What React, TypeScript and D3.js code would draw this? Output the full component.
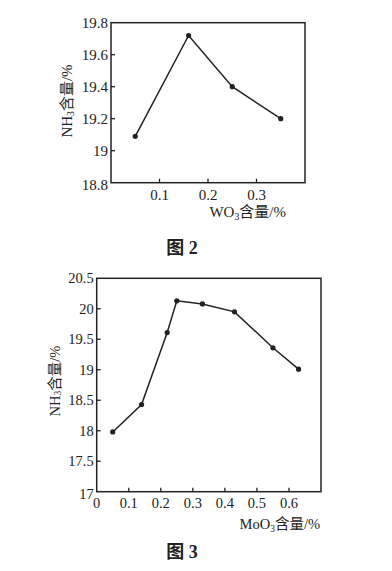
import React from "react";
import * as d3 from "d3";

// Figure 2 data
const wo3X = [0.05, 0.16, 0.25, 0.35];
const wo3Y = [19.09, 19.72, 19.4, 19.2];
const fig2XTicks = [0.1, 0.2, 0.3];
const fig2YTicks = [18.8, 19, 19.2, 19.4, 19.6, 19.8];
const fig2YLabels = ["18.8", "19", "19.2", "19.4", "19.6", "19.8"];

// Figure 3 data
const moo3X = [0.05, 0.14, 0.22, 0.25, 0.33, 0.43, 0.55, 0.63];
const moo3Y = [17.98, 18.43, 19.61, 20.13, 20.08, 19.95, 19.36, 19.01];
const fig3XTicks = [0, 0.1, 0.2, 0.3, 0.4, 0.5, 0.6];
const fig3YTicks = [17, 17.5, 18, 18.5, 19, 19.5, 20, 20.5];
const fig3YLabels = ["17", "17.5", "18", "18.5", "19", "19.5", "20", "20.5"];

const FONT = "'Liberation Serif', 'Times New Roman', 'Noto Sans CJK SC', serif";
const INK = "#222222";

type PanelProps = {
  xs: number[];
  ys: number[];
  xDomain: [number, number];
  yDomain: [number, number];
  left: number;
  right: number;
  top: number;
  bottom: number;
  xTicks: number[];
  yTicks: number[];
  yLabels: string[];
  fontSize: number;
  xTitleParts: [string, string, string];
  xTitleX: number;
  xTitleY: number;
  yTitleX: number;
  yTitleY: number;
  xLabelDy: number;
};

function Panel(p: PanelProps) {
  const x = d3.scaleLinear().domain(p.xDomain).range([p.left, p.right]);
  const y = d3.scaleLinear().domain(p.yDomain).range([p.bottom, p.top]);
  const line = d3
    .line<number>()
    .x((_, i) => x(p.xs[i]))
    .y((d) => y(d));
  const tl = 4;
  return (
    <g fontFamily={FONT} fill={INK}>
      <rect
        x={p.left}
        y={p.top}
        width={p.right - p.left}
        height={p.bottom - p.top}
        fill="none"
        stroke={INK}
        strokeWidth={1.5}
      />
      {p.yTicks.map((t, i) => (
        <g key={"y" + i}>
          {t !== p.yDomain[0] && t !== p.yDomain[1] && (
            <line x1={p.left} x2={p.left + tl} y1={y(t)} y2={y(t)} stroke={INK} strokeWidth={1.3} />
          )}
          <text
            x={p.left - 3}
            y={y(t) + (i === 0 ? 2 : 0)}
            textAnchor="end"
            dominantBaseline="central"
            fontSize={p.fontSize}
          >
            {p.yLabels[i]}
          </text>
        </g>
      ))}
      {p.xTicks.map((t, i) => (
        <g key={"x" + i}>
          {t !== p.xDomain[0] && (
            <line x1={x(t)} x2={x(t)} y1={p.bottom} y2={p.bottom - tl} stroke={INK} strokeWidth={1.3} />
          )}
          <text x={x(t)} y={p.bottom + p.xLabelDy} textAnchor="middle" fontSize={p.fontSize}>
            {t === 0 ? "0" : String(t)}
          </text>
        </g>
      ))}
      <path d={line(p.ys) || ""} fill="none" stroke={INK} strokeWidth={1.5} />
      {p.ys.map((v, i) => (
        <circle key={"c" + i} cx={x(p.xs[i])} cy={y(v)} r={2.6} fill={INK} />
      ))}
      <text x={p.xTitleX} y={p.xTitleY} textAnchor="end" fontSize={p.fontSize}>
        {p.xTitleParts[0]}
        <tspan fontSize={p.fontSize * 0.65} dy={3}>
          {p.xTitleParts[1]}
        </tspan>
        <tspan dy={-3}>{p.xTitleParts[2]}</tspan>
      </text>
      <text
        transform={`translate(${p.yTitleX},${p.yTitleY}) rotate(-90)`}
        textAnchor="middle"
        dominantBaseline="central"
        fontSize={p.fontSize}
      >
        NH
        <tspan fontSize={p.fontSize * 0.65} dy={3}>
          3
        </tspan>
        <tspan dy={-3}>含量/%</tspan>
      </text>
    </g>
  );
}

export default function App() {
  return (
    <svg
      width={392}
      height={571}
      style={{ position: "absolute", left: 0, top: 0, background: "#ffffff" }}
    >
      <rect x={0} y={0} width={392} height={571} fill="#ffffff" />
      <Panel
        xs={wo3X}
        ys={wo3Y}
        xDomain={[0, 0.4]}
        yDomain={[18.8, 19.8]}
        left={111}
        right={305}
        top={22.7}
        bottom={182.7}
        xTicks={fig2XTicks}
        yTicks={fig2YTicks}
        yLabels={fig2YLabels}
        fontSize={15}
        xTitleParts={["WO", "3", "含量/%"]}
        xTitleX={286}
        xTitleY={217}
        yTitleX={67}
        yTitleY={101}
        xLabelDy={17}
      />
      <text x={182} y={254} textAnchor="middle" fontSize={18} fontWeight="bold" fontFamily={FONT} fill={INK}>
        图 2
      </text>
      <Panel
        xs={moo3X}
        ys={moo3Y}
        xDomain={[0, 0.7]}
        yDomain={[17, 20.5]}
        left={96.7}
        right={321}
        top={278.3}
        bottom={491.7}
        xTicks={fig3XTicks}
        yTicks={fig3YTicks}
        yLabels={fig3YLabels}
        fontSize={14.5}
        xTitleParts={["MoO", "3", "含量/%"]}
        xTitleX={320}
        xTitleY={529}
        yTitleX={55}
        yTitleY={381}
        xLabelDy={16}
      />
      <text x={182} y={558} textAnchor="middle" fontSize={18} fontWeight="bold" fontFamily={FONT} fill={INK}>
        图 3
      </text>
    </svg>
  );
}
